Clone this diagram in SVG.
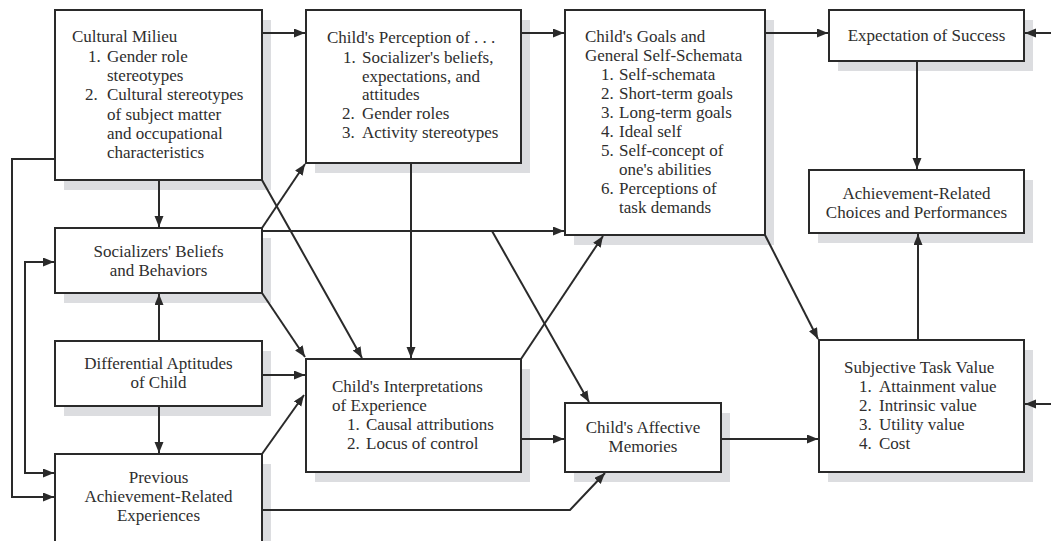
<svg xmlns="http://www.w3.org/2000/svg" width="1051" height="541" viewBox="0 0 1051 541">
<defs>
<marker id="ah" markerUnits="userSpaceOnUse" markerWidth="12" markerHeight="10" refX="11" refY="4.5" orient="auto">
<path d="M0,0 L11,4.5 L0,9 z" fill="#2a2a2a"/>
</marker>
</defs>
<style>
.box{fill:#fff;stroke:#2a2a2a;stroke-width:2}
.sh{fill:#dcdde0}
text{font-family:"Liberation Serif","Times New Roman",serif;font-size:17px;fill:#2e2e2e}
.c{text-anchor:middle}
.ln{fill:none;stroke:#2a2a2a;stroke-width:2}
.ar{fill:none;stroke:#2a2a2a;stroke-width:2;marker-end:url(#ah)}
</style>
<rect width="1051" height="541" fill="#fff"/>

<g id="cultural">
<rect class="sh" x="64" y="20" width="207" height="170"/>
<rect class="box" x="55" y="10" width="207" height="170"/>
<text x="72" y="42">Cultural Milieu</text>
<text x="88" y="62">1.</text><text x="107" y="62">Gender role</text>
<text x="107" y="81">stereotypes</text>
<text x="85" y="100">2.</text><text x="107" y="100">Cultural stereotypes</text>
<text x="107" y="120">of subject matter</text>
<text x="107" y="139">and occupational</text>
<text x="107" y="158">characteristics</text>
</g>

<g id="perception">
<rect class="sh" x="315" y="20" width="215" height="153"/>
<rect class="box" x="306" y="10" width="215" height="153"/>
<text x="327" y="43">Child's Perception of . . .</text>
<text x="343" y="63">1.</text><text x="362" y="63">Socializer's beliefs,</text>
<text x="362" y="82">expectations, and</text>
<text x="362" y="100">attitudes</text>
<text x="342" y="119">2.</text><text x="362" y="119">Gender roles</text>
<text x="342" y="138">3.</text><text x="362" y="138">Activity stereotypes</text>
</g>

<g id="goals">
<rect class="sh" x="574" y="20" width="200" height="225"/>
<rect class="box" x="565" y="10" width="200" height="225"/>
<text x="585" y="42">Child's Goals and</text>
<text x="585" y="61">General Self-Schemata</text>
<text x="601" y="80">1.</text><text x="619" y="80">Self-schemata</text>
<text x="601" y="99">2.</text><text x="619" y="99">Short-term goals</text>
<text x="601" y="118">3.</text><text x="619" y="118">Long-term goals</text>
<text x="601" y="137">4.</text><text x="619" y="137">Ideal self</text>
<text x="601" y="156">5.</text><text x="619" y="156">Self-concept of</text>
<text x="619" y="175">one's abilities</text>
<text x="601" y="194">6.</text><text x="619" y="194">Perceptions of</text>
<text x="619" y="213">task demands</text>
</g>

<g id="expectation">
<rect class="sh" x="838" y="20" width="195" height="51"/>
<rect class="box" x="829" y="10" width="195" height="51"/>
<text class="c" x="926.5" y="41">Expectation of Success</text>
</g>

<g id="achievement">
<rect class="sh" x="818" y="180" width="215" height="63"/>
<rect class="box" x="809" y="170" width="215" height="63"/>
<text class="c" x="916.5" y="199">Achievement-Related</text>
<text class="c" x="916.5" y="218">Choices and Performances</text>
</g>

<g id="socializers">
<rect class="sh" x="64" y="238" width="207" height="65"/>
<rect class="box" x="55" y="228" width="207" height="65"/>
<text class="c" x="158.5" y="257">Socializers' Beliefs</text>
<text class="c" x="158.5" y="276">and Behaviors</text>
</g>

<g id="aptitudes">
<rect class="sh" x="64" y="351" width="207" height="65"/>
<rect class="box" x="55" y="341" width="207" height="65"/>
<text class="c" x="158.5" y="369">Differential Aptitudes</text>
<text class="c" x="158.5" y="388">of Child</text>
</g>

<g id="previous">
<rect class="sh" x="64" y="464" width="207" height="100"/>
<rect class="box" x="55" y="454" width="207" height="100"/>
<text class="c" x="158.5" y="483">Previous</text>
<text class="c" x="158.5" y="502">Achievement-Related</text>
<text class="c" x="158.5" y="521">Experiences</text>
</g>

<g id="interpretations">
<rect class="sh" x="315" y="369" width="215" height="113"/>
<rect class="box" x="306" y="359" width="215" height="113"/>
<text x="332" y="392">Child's Interpretations</text>
<text x="332" y="411">of Experience</text>
<text x="347" y="430">1.</text><text x="366" y="430">Causal attributions</text>
<text x="347" y="449">2.</text><text x="366" y="449">Locus of control</text>
</g>

<g id="affective">
<rect class="sh" x="574" y="413" width="156" height="69"/>
<rect class="box" x="565" y="403" width="156" height="69"/>
<text class="c" x="643" y="433">Child's Affective</text>
<text class="c" x="643" y="452">Memories</text>
</g>

<g id="taskvalue">
<rect class="sh" x="828" y="350" width="205" height="132"/>
<rect class="box" x="819" y="340" width="205" height="132"/>
<text x="844" y="373">Subjective Task Value</text>
<text x="859" y="392">1.</text><text x="879" y="392">Attainment value</text>
<text x="859" y="411">2.</text><text x="879" y="411">Intrinsic value</text>
<text x="859" y="430">3.</text><text x="879" y="430">Utility value</text>
<text x="859" y="449">4.</text><text x="879" y="449">Cost</text>
</g>

<g id="connectors">
<path class="ar" d="M262,33 L305,33"/>
<path class="ar" d="M521,33 L564,33"/>
<path class="ar" d="M765,33 L828,33"/>
<path class="ar" d="M1051,33 L1025,33"/>
<path class="ar" d="M1051,404 L1025,404"/>
<path class="ar" d="M917,61 L917,169"/>
<path class="ar" d="M918,340 L918,234"/>
<path class="ar" d="M765,235 L818,339"/>
<path class="ar" d="M721,439 L818,439"/>
<path class="ar" d="M521,439 L564,439"/>
<path class="ar" d="M521,359 L603,236"/>
<path class="ar" d="M411,163 L411,358"/>
<path class="ar" d="M262,231 L564,231"/>
<path class="ar" d="M492,231 L589,402"/>
<path class="ar" d="M262,228 L305,164"/>
<path class="ar" d="M262,180 L362,358"/>
<path class="ar" d="M159,180 L159,227"/>
<path class="ar" d="M262,293 L305,357"/>
<path class="ar" d="M159,341 L159,294"/>
<path class="ar" d="M159,406 L159,453"/>
<path class="ar" d="M262,375 L305,375"/>
<path class="ar" d="M262,454 L304,395"/>
<path class="ar" d="M262,510 L570,510 L605,473"/>
<path class="ar" d="M54,262 L25,262 L25,473 L54,473"/>
<path class="ar" d="M25,262 L54,262"/>
<path class="ar" d="M55,159 L12,159 L12,497 L54,497"/>
</g>
</svg>
